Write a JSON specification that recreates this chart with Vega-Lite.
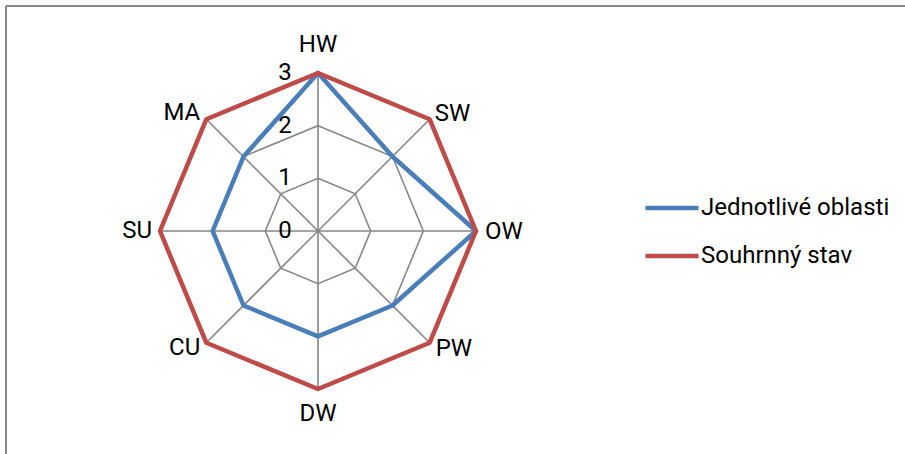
{
  "$schema": "https://vega.github.io/schema/vega-lite/v6.json",
  "autosize": {"type": "none"},
  "width": 899,
  "height": 448,
  "padding": {"left": 6, "top": 6, "right": 0, "bottom": 0},
  "background": "white",
  "config": {
    "view": {"stroke": "#868686", "strokeWidth": 2, "strokeDash": [899, 1347, 448, 0]},
    "text": {"font": "Roboto", "fontSize": 24, "color": "#000000"}
  },
  "datasets": {
    "cats": [
      {"cat": "HW", "idx": 0, "rings": [1, 2, 3]},
      {"cat": "SW", "idx": 1, "rings": [1, 2, 3]},
      {"cat": "OW", "idx": 2, "rings": [1, 2, 3]},
      {"cat": "PW", "idx": 3, "rings": [1, 2, 3]},
      {"cat": "DW", "idx": 4, "rings": [1, 2, 3]},
      {"cat": "CU", "idx": 5, "rings": [1, 2, 3]},
      {"cat": "SU", "idx": 6, "rings": [1, 2, 3]},
      {"cat": "MA", "idx": 7, "rings": [1, 2, 3]}
    ],
    "series": [
      {"series": "Jednotlivé oblasti", "cat": "HW", "idx": 0, "value": 3},
      {"series": "Jednotlivé oblasti", "cat": "SW", "idx": 1, "value": 2},
      {"series": "Jednotlivé oblasti", "cat": "OW", "idx": 2, "value": 3},
      {"series": "Jednotlivé oblasti", "cat": "PW", "idx": 3, "value": 2},
      {"series": "Jednotlivé oblasti", "cat": "DW", "idx": 4, "value": 2},
      {"series": "Jednotlivé oblasti", "cat": "CU", "idx": 5, "value": 2},
      {"series": "Jednotlivé oblasti", "cat": "SU", "idx": 6, "value": 2},
      {"series": "Jednotlivé oblasti", "cat": "MA", "idx": 7, "value": 2},
      {"series": "Souhrnný stav", "cat": "HW", "idx": 0, "value": 3},
      {"series": "Souhrnný stav", "cat": "SW", "idx": 1, "value": 3},
      {"series": "Souhrnný stav", "cat": "OW", "idx": 2, "value": 3},
      {"series": "Souhrnný stav", "cat": "PW", "idx": 3, "value": 3},
      {"series": "Souhrnný stav", "cat": "DW", "idx": 4, "value": 3},
      {"series": "Souhrnný stav", "cat": "CU", "idx": 5, "value": 3},
      {"series": "Souhrnný stav", "cat": "SU", "idx": 6, "value": 3},
      {"series": "Souhrnný stav", "cat": "MA", "idx": 7, "value": 3}
    ],
    "ticks": [{"v": 0}, {"v": 1}, {"v": 2}, {"v": 3}]
  },
  "encoding": {
    "x": {"field": "px", "type": "quantitative", "scale": {"domain": [-5.924, 11.146], "nice": false, "zero": false}, "axis": null},
    "y": {"field": "py", "type": "quantitative", "scale": {"domain": [-4.234, 4.272], "nice": false, "zero": false}, "axis": null}
  },
  "layer": [
    {
      "data": {"name": "cats"},
      "transform": [
        {"flatten": ["rings"], "as": ["ring"]},
        {"calculate": "datum.ring * sin(datum.idx * PI / 4)", "as": "px"},
        {"calculate": "datum.ring * cos(datum.idx * PI / 4)", "as": "py"}
      ],
      "mark": {"type": "line", "interpolate": "linear-closed", "stroke": "#868686", "strokeWidth": 1.6},
      "encoding": {
        "detail": {"field": "ring", "type": "nominal"},
        "order": {"field": "idx", "type": "quantitative"}
      }
    },
    {
      "data": {"name": "cats"},
      "transform": [
        {"calculate": "3 * sin(datum.idx * PI / 4)", "as": "px"},
        {"calculate": "3 * cos(datum.idx * PI / 4)", "as": "py"},
        {"calculate": "0", "as": "zero"}
      ],
      "mark": {"type": "rule", "stroke": "#868686", "strokeWidth": 1.6},
      "encoding": {
        "x2": {"field": "zero"},
        "y2": {"field": "zero"}
      }
    },
    {
      "data": {"name": "ticks"},
      "transform": [
        {"calculate": "0", "as": "px"},
        {"calculate": "datum.v", "as": "py"}
      ],
      "mark": {"type": "text", "align": "center", "baseline": "middle", "dx": -33, "dy": 0},
      "encoding": {"text": {"field": "v", "type": "quantitative"}}
    },
    {
      "data": {"name": "series"},
      "transform": [
        {"calculate": "datum.value * sin(datum.idx * PI / 4)", "as": "px"},
        {"calculate": "datum.value * cos(datum.idx * PI / 4)", "as": "py"}
      ],
      "mark": {"type": "line", "interpolate": "linear-closed", "strokeWidth": 4.5, "strokeJoin": "round"},
      "encoding": {
        "color": {
          "field": "series",
          "type": "nominal",
          "scale": {"domain": ["Jednotlivé oblasti", "Souhrnný stav"], "range": ["#4A7EBB", "#BE4B48"]},
          "legend": {
            "title": null,
            "orient": "none",
            "legendX": 637,
            "legendY": 173,
            "padding": 0,
            "symbolType": "stroke",
            "symbolSize": 2809,
            "symbolStrokeWidth": 4.5,
            "labelFont": "Roboto",
            "labelFontSize": 24,
            "labelColor": "#000000",
            "labelLimit": 300,
            "labelOffset": 0,
            "rowPadding": 7
          }
        },
        "detail": {"field": "series", "type": "nominal"},
        "order": {"field": "idx", "type": "quantitative"}
      }
    },
    {
      "data": {"name": "cats"},
      "transform": [
        {"filter": "datum.cat == 'HW'"},
        {"calculate": "3 * sin(datum.idx * PI / 4)", "as": "px"},
        {"calculate": "3 * cos(datum.idx * PI / 4)", "as": "py"}
      ],
      "mark": {"type": "text", "align": "center", "baseline": "middle", "dx": 0, "dy": -28},
      "encoding": {"text": {"field": "cat"}}
    },
    {
      "data": {"name": "cats"},
      "transform": [
        {"filter": "datum.cat == 'SW'"},
        {"calculate": "3 * sin(datum.idx * PI / 4)", "as": "px"},
        {"calculate": "3 * cos(datum.idx * PI / 4)", "as": "py"}
      ],
      "mark": {"type": "text", "align": "left", "baseline": "middle", "dx": 5, "dy": -5},
      "encoding": {"text": {"field": "cat"}}
    },
    {
      "data": {"name": "cats"},
      "transform": [
        {"filter": "datum.cat == 'OW'"},
        {"calculate": "3 * sin(datum.idx * PI / 4)", "as": "px"},
        {"calculate": "3 * cos(datum.idx * PI / 4)", "as": "py"}
      ],
      "mark": {"type": "text", "align": "left", "baseline": "middle", "dx": 9, "dy": 1},
      "encoding": {"text": {"field": "cat"}}
    },
    {
      "data": {"name": "cats"},
      "transform": [
        {"filter": "datum.cat == 'PW'"},
        {"calculate": "3 * sin(datum.idx * PI / 4)", "as": "px"},
        {"calculate": "3 * cos(datum.idx * PI / 4)", "as": "py"}
      ],
      "mark": {"type": "text", "align": "left", "baseline": "middle", "dx": 6, "dy": 6},
      "encoding": {"text": {"field": "cat"}}
    },
    {
      "data": {"name": "cats"},
      "transform": [
        {"filter": "datum.cat == 'DW'"},
        {"calculate": "3 * sin(datum.idx * PI / 4)", "as": "px"},
        {"calculate": "3 * cos(datum.idx * PI / 4)", "as": "py"}
      ],
      "mark": {"type": "text", "align": "center", "baseline": "middle", "dx": 0, "dy": 25},
      "encoding": {"text": {"field": "cat"}}
    },
    {
      "data": {"name": "cats"},
      "transform": [
        {"filter": "datum.cat == 'CU'"},
        {"calculate": "3 * sin(datum.idx * PI / 4)", "as": "px"},
        {"calculate": "3 * cos(datum.idx * PI / 4)", "as": "py"}
      ],
      "mark": {"type": "text", "align": "right", "baseline": "middle", "dx": -6, "dy": 5},
      "encoding": {"text": {"field": "cat"}}
    },
    {
      "data": {"name": "cats"},
      "transform": [
        {"filter": "datum.cat == 'SU'"},
        {"calculate": "3 * sin(datum.idx * PI / 4)", "as": "px"},
        {"calculate": "3 * cos(datum.idx * PI / 4)", "as": "py"}
      ],
      "mark": {"type": "text", "align": "right", "baseline": "middle", "dx": -8, "dy": 0},
      "encoding": {"text": {"field": "cat"}}
    },
    {
      "data": {"name": "cats"},
      "transform": [
        {"filter": "datum.cat == 'MA'"},
        {"calculate": "3 * sin(datum.idx * PI / 4)", "as": "px"},
        {"calculate": "3 * cos(datum.idx * PI / 4)", "as": "py"}
      ],
      "mark": {"type": "text", "align": "right", "baseline": "middle", "dx": -6, "dy": -6},
      "encoding": {"text": {"field": "cat"}}
    }
  ]
}
